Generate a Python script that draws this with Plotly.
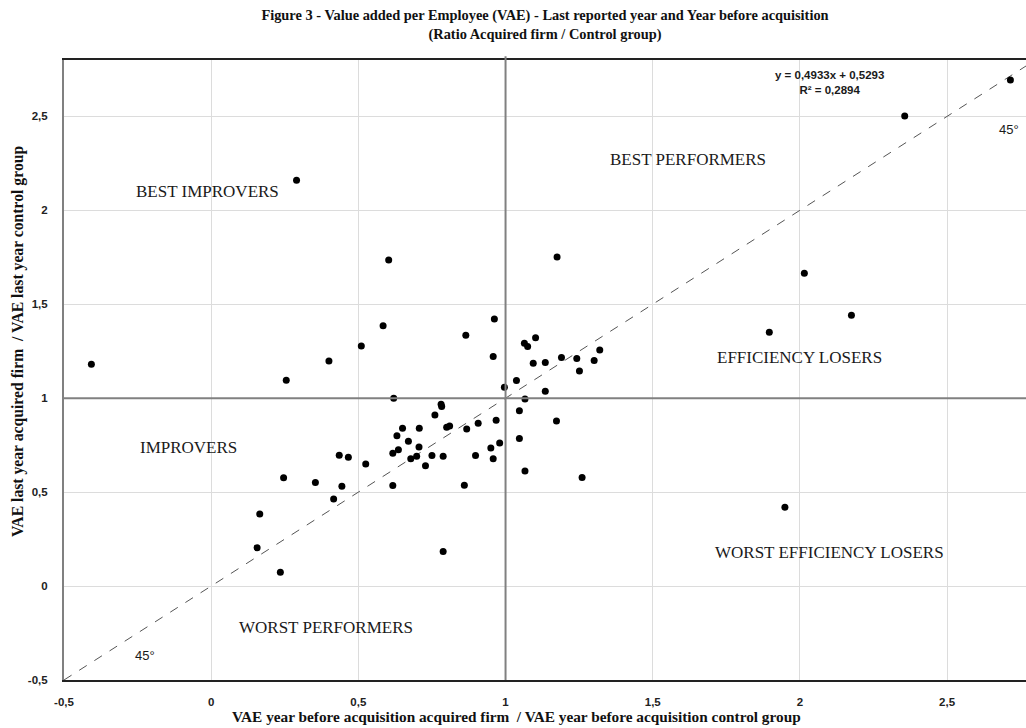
import plotly.graph_objects as go

# ---- data ----
x_before = [
    -0.407, 0.29, 0.603, 0.584, 0.51, 0.40, 0.255, 0.62, 0.865, 0.962,
    0.958, 0.996, 1.037, 1.064, 1.075, 1.102, 1.094, 1.135, 1.175, 1.19,
    1.242, 1.251, 1.301, 1.32, 1.135, 1.066, 2.715, 2.356, 2.015, 2.175,
    1.896, 1.949, 1.047, 1.173, 1.047, 1.066, 1.26, 0.783, 0.781, 0.76,
    0.65, 0.631, 0.707, 0.67, 0.80, 0.81, 0.868, 0.907, 0.968, 0.98,
    0.95, 0.958, 0.898, 0.788, 0.75, 0.706, 0.698, 0.678, 0.728, 0.636,
    0.617, 0.617, 0.86, 0.435, 0.466, 0.525, 0.246, 0.354, 0.444, 0.416,
    0.165, 0.156, 0.235, 0.788,
]
y_last = [
    1.18, 2.16, 1.736, 1.385, 1.278, 1.198, 1.096, 1.0, 1.335, 1.421,
    1.222, 1.058, 1.094, 1.293, 1.275, 1.322, 1.186, 1.19, 1.752, 1.216,
    1.211, 1.145, 1.2, 1.257, 1.037, 0.995, 2.694, 2.502, 1.665, 1.441,
    1.351, 0.42, 0.933, 0.878, 0.785, 0.613, 0.578, 0.956, 0.968, 0.91,
    0.84, 0.80, 0.84, 0.771, 0.845, 0.852, 0.836, 0.866, 0.882, 0.761,
    0.735, 0.677, 0.695, 0.691, 0.695, 0.74, 0.691, 0.677, 0.641, 0.726,
    0.707, 0.535, 0.536, 0.696, 0.685, 0.65, 0.577, 0.551, 0.531, 0.464,
    0.384, 0.204, 0.074, 0.184,
]
x_range = [-0.5, 2.768]
y_range = [-0.5, 2.8]
tick_vals = [-0.5, 0, 0.5, 1, 1.5, 2, 2.5]
tick_text = ["-0,5", "0", "0,5", "1", "1,5", "2", "2,5"]

quadrant_labels = ["BEST IMPROVERS", "BEST PERFORMERS", "EFFICIENCY LOSERS",
                   "IMPROVERS", "WORST PERFORMERS", "WORST EFFICIENCY LOSERS"]
quadrant_x = [-0.013, 1.62, 2.0, -0.078, 0.39, 2.10]
quadrant_y = [2.10, 2.27, 1.218, 0.74, -0.218, 0.176]

equation_lines = ["y = 0,4933x + 0,5293", "R² = 0,2894"]
angle_labels = ["45°", "45°"]
angle_x = [2.71, -0.224]
angle_y = [2.43, -0.367]

title_lines = ["Figure 3 - Value added per Employee (VAE) - Last reported year and Year before acquisition",
               "(Ratio Acquired firm / Control group)"]
x_title = "VAE year before acquisition acquired firm  / VAE year before acquisition control group"
y_title = "VAE last year acquired firm  / VAE last year control group"

serif = "Liberation Serif, Times New Roman, serif"
sans = "Liberation Sans, Arial, sans-serif"

fig = go.Figure()

# 45-degree reference line
fig.add_trace(go.Scatter(
    x=x_range, y=x_range, mode="lines",
    line=dict(color="#555555", width=1, dash="dash"),
    hoverinfo="skip", showlegend=False,
))

fig.add_trace(go.Scatter(
    x=x_before, y=y_last, mode="markers",
    marker=dict(color="black", size=7),
    showlegend=False,
))

annotations = []
for t, ax_, ay_ in zip(quadrant_labels, quadrant_x, quadrant_y):
    annotations.append(dict(x=ax_, y=ay_, xref="x", yref="y", text=t, showarrow=False,
                            font=dict(family=serif, size=17, color="#1a1a1a")))
for t, ax_, ay_ in zip(angle_labels, angle_x, angle_y):
    annotations.append(dict(x=ax_, y=ay_, xref="x", yref="y", text=t, showarrow=False,
                            font=dict(family=sans, size=13, color="#1a1a1a")))
annotations.append(dict(x=2.10, y=2.68, xref="x", yref="y",
                        text="<br>".join("<b>%s</b>" % s for s in equation_lines),
                        showarrow=False, font=dict(family=sans, size=11.5, color="#1a1a1a")))
annotations.append(dict(x=(516 - 64) / 962, y=(680 - 716) / 620, xref="paper", yref="paper",
                        text="<b>%s</b>" % x_title, showarrow=False,
                        xanchor="center", yanchor="middle",
                        font=dict(family=serif, size=15.3, color="#111")))
annotations.append(dict(x=(18 - 64) / 962, y=(680 - 342) / 620, xref="paper", yref="paper",
                        text="<b>%s</b>" % y_title,
                        showarrow=False, textangle=-90, xanchor="center", yanchor="middle",
                        font=dict(family=serif, size=15.7, color="#111")))

fig.update_layout(
    width=1026, height=728,
    margin=dict(l=64, r=0, t=60, b=48),
    paper_bgcolor="white", plot_bgcolor="white",
    title=dict(text="<br>".join("<b>%s</b>" % s for s in title_lines), x=0.5, xref="paper", xanchor="center",
               y=1 - 20 / 728, yref="container", yanchor="middle",
               font=dict(family=serif, size=14.4, color="#111")),
    annotations=annotations,
    shapes=[
        dict(type="line", xref="x", yref="paper", x0=1, x1=1, y0=0, y1=1.006,
             line=dict(color="#808080", width=2)),
        dict(type="line", xref="paper", yref="y", x0=0, x1=1, y0=1, y1=1,
             line=dict(color="#808080", width=2)),
    ],
    xaxis=dict(range=x_range, tickvals=tick_vals, ticktext=tick_text,
               showgrid=True, gridcolor="#dcdcdc", gridwidth=1, zeroline=False,
               showline=True, linecolor="#222222", linewidth=2, mirror=True,
               ticks="", ticklabelstandoff=10,
               tickfont=dict(family=sans, size=11.5, color="#222", weight="bold")),
    yaxis=dict(range=y_range, tickvals=tick_vals, ticktext=tick_text,
               showgrid=True, gridcolor="#dcdcdc", gridwidth=1, zeroline=False,
               showline=True, linecolor="#808080", linewidth=2,
               ticks="", ticklabelstandoff=12,
               tickfont=dict(family=sans, size=11.5, color="#222", weight="bold")),
)

fig.write_html("out.html")
